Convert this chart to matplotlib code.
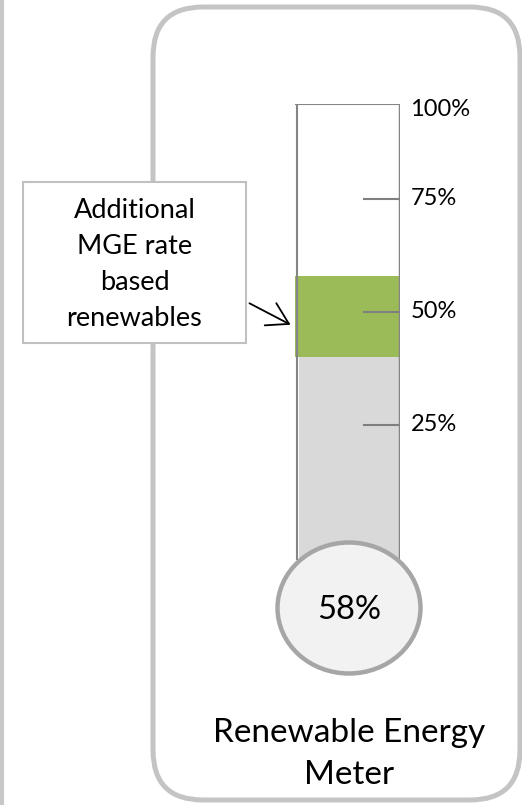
import matplotlib
matplotlib.use("Agg")
import matplotlib.pyplot as plt
from matplotlib.patches import FancyBboxPatch, Rectangle, Ellipse

plt.rcParams['font.family'] = ['Lato', 'DejaVu Sans']

# meter values (percent)
base_share = 40        # existing renewables (grey)
added_share = 18       # additional MGE rate based renewables (green)
total_share = base_share + added_share
tick_values = [25, 50, 75]
tick_labels = ["25%", "50%", "75%"]
top_label = "100%"
callout_text = "Additional\nMGE rate\nbased\nrenewables"
title_text = "Renewable Energy\nMeter"

W, H = 522, 805
fig = plt.figure(figsize=(W / 100, H / 100), dpi=100)

# background layer in pixel units
bg = fig.add_axes([0, 0, 1, 1])
bg.set_xlim(0, W)
bg.set_ylim(H, 0)
bg.axis("off")
bg.set_zorder(1)

# thin rule along the left edge
bg.plot([1.5, 1.5], [0, H], color="#c8c8c8", lw=3, solid_capstyle="butt")

# rounded frame around the meter
frame = FancyBboxPatch((153 + 50, 7 + 50), 520 - 153 - 100, 800 - 7 - 100,
                       boxstyle="round,pad=50", fc="white", ec="#c4c4c4", lw=3.6)
bg.add_patch(frame)

# callout box with arrow
bg.add_patch(Rectangle((23, 182), 223, 161, fc="white", ec="#c0c0c0", lw=1.5, zorder=3))
bg.text(134.5, 264, callout_text, ha="center", va="center", fontsize=19.5,
        linespacing=1.55, zorder=4)
bg.annotate("", xy=(293, 326), xytext=(247, 302),
            arrowprops=dict(arrowstyle="->,head_length=0.5,head_width=0.3",
                            color="black", lw=1.3, mutation_scale=30), zorder=4)

bg.text(349, 754, title_text, ha="center", va="center", fontsize=24,
        linespacing=1.5)

# tube, in percent units
tube_top = 96
tube_bottom = -5
ax = fig.add_axes([295 / W, 1 - 560 / H, 105 / W, (560 - 104) / H])
ax.set_xlim(0, 1)
ax.set_ylim(tube_bottom, tube_top)
ax.axis("off")
ax.set_zorder(2)

ax.bar(0.52, base_share - tube_bottom, bottom=tube_bottom, width=0.96,
       color="#d9d9d9", zorder=1)
ax.bar(0.5, added_share, bottom=base_share, width=1.0, color="#9bbb59", zorder=2)

ax.plot([0.02, 0.02], [tube_bottom, tube_top], color="#858585", lw=1.5, zorder=3)
ax.plot([1.0, 1.0], [tube_bottom, tube_top], color="#858585", lw=2.5, zorder=3)
ax.plot([0.0, 1.0], [tube_top, tube_top], color="#858585", lw=1.5, zorder=3)

for v, lab in zip(tick_values, tick_labels):
    ax.plot([0.66, 1.0], [v, v], color="#7f7f7f", lw=1.5, zorder=3)
    ax.text(1.1, v, lab, ha="left", va="center", fontsize=17, clip_on=False)
ax.text(1.1, tube_top - 1.3, top_label, ha="left", va="center", fontsize=17,
        clip_on=False)

# bulb on top of the tube
bulb = Ellipse((349, 608), 143, 131, transform=bg.transData, fc="#f2f2f2",
               ec="#a6a6a6", lw=3.2, clip_on=False, zorder=5)
ax.add_patch(bulb)
ax.text(349, 610, f"{total_share}%", transform=bg.transData, ha="center",
        va="center", fontsize=23.5, zorder=6, clip_on=False)

fig.savefig("out.png", dpi=100)
